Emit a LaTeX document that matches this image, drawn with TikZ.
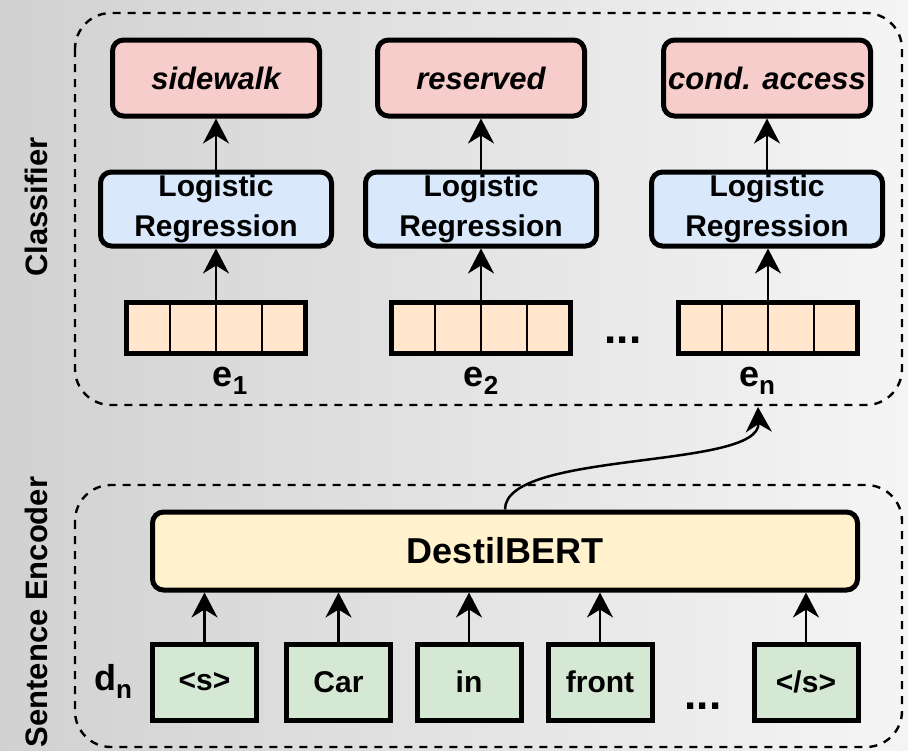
\documentclass[tikz,border=0pt]{standalone}
\usepackage{fontspec}
\setmainfont{Liberation Sans}
\usetikzlibrary{arrows.meta,calc}

\definecolor{labelred}{HTML}{F6CDCB}
\definecolor{lrblue}{HTML}{DAE8FC}
\definecolor{vecorange}{HTML}{FFE6CC}
\definecolor{encyellow}{HTML}{FFF2CC}
\definecolor{tokgreen}{HTML}{D5E8D4}

\begin{document}
\begin{tikzpicture}[x=1pt,y=-1pt,
  box/.style={draw=black, line width=5pt, inner sep=0pt, align=center},
  labelbox/.style={box, rounded corners=11pt, fill=labelred,
    minimum width=207pt, minimum height=76pt,
    font=\fontsize{31}{34}\selectfont\bfseries\itshape},
  lrbox/.style={box, rounded corners=11pt, fill=lrblue,
    minimum width=231pt, minimum height=74pt,
    font=\fontsize{30}{40}\selectfont\bfseries},
  vecbox/.style={box, fill=vecorange, minimum width=179pt, minimum height=51pt},
  encbox/.style={box, rounded corners=11pt, fill=encyellow,
    minimum width=705pt, minimum height=78pt,
    font=\fontsize{36}{40}\selectfont\bfseries},
  tokbox/.style={box, fill=tokgreen, minimum width=104pt, minimum height=76pt,
    font=\fontsize{30}{34}\selectfont\bfseries},
  group/.style={draw=black, line width=2.4pt, dash pattern=on 8pt off 7pt,
    rounded corners=36pt},
  divider/.style={draw=black, line width=2.8pt},
  arr/.style={draw=black, line width=2.5pt,
    -{Stealth[length=25pt,width=26pt,inset=8pt]}},
  side/.style={rotate=90, font=\fontsize{31}{34}\selectfont\bfseries},
  emb/.style={font=\fontsize{36}{40}\selectfont\bfseries},
  dots/.style={font=\fontsize{44}{44}\selectfont\bfseries, inner sep=0pt}
]
\useasboundingbox (0,0) rectangle (908,750);

% backdrop
\fill[left color=black!18, right color=black!4] (0,0) rectangle (908,750);

% group frames
\draw[group] (75,13) rectangle (902,405);
\draw[group] (75,485) rectangle (902,747);
\node[side] (clsname) at (36,207) {Classifier};
\node[side] (encname) at (36,612) {Sentence Encoder};

% classifier columns
\node[labelbox] (c1) at (216,78) {sidewalk};
\node[labelbox] (c2) at (481,78) {reserved};
\node[labelbox] (c3) at (767,78) {cond. access};

\node[lrbox] (lr1) at (216,209) {Logistic\\Regression};
\node[lrbox] (lr2) at (481,209) {Logistic\\Regression};
\node[lrbox] (lr3) at (767,209) {Logistic\\Regression};

\node[vecbox] (v1) at (216,327.5) {};
\node[vecbox] (v2) at (481,327.5) {};
\node[vecbox] (v3) at (768,327.5) {};
\foreach \v in {v1,v2,v3}{
  \foreach \f in {0.25,0.5,0.75}{
    \draw[divider] ($(\v.north west)!\f!(\v.north east)$) -- ($(\v.south west)!\f!(\v.south east)$);
  }
}

\node[emb] (e1) at (230,381) {e\raisebox{-0.22em}{\fontsize{26}{26}\selectfont 1}};
\node[emb] (e2) at (481,381) {e\raisebox{-0.22em}{\fontsize{26}{26}\selectfont 2}};
\node[emb] (en) at (757,381) {e\raisebox{-0.22em}{\fontsize{26}{26}\selectfont n}};
\node[dots, anchor=base] (vdots) at (623,343) {...};

\foreach \i in {1,2,3}{
  \draw[arr] (v\i.north) -- (v\i.north |- lr\i.south);
  \draw[arr] (lr\i.north) -- (lr\i.north |- c\i.south);
}

% sentence encoder
\node[encbox] (db) at (505,551) {DestilBERT};

\node[tokbox] (t1) at (204.5,682) {<s>};
\node[tokbox] (t2) at (338.5,682) {Car};
\node[tokbox] (t3) at (469,682) {in};
\node[tokbox] (t4) at (600,682) {front};
\node[tokbox] (t5) at (806,682) {</s>};
\node[emb] (dn) at (113,681) {d\raisebox{-0.22em}{\fontsize{26}{26}\selectfont n}};
\node[dots, anchor=base] (tdots) at (703,709) {...};

\foreach \i in {1,...,5}{
  \draw[arr] (t\i.north) -- (t\i.north |- db.south);
}

% sentence embedding handed to the classifier
\coordinate (entip) at (758,407);
\draw[arr] (db.north) .. controls (505,450) and (760,470) .. (entip);
\end{tikzpicture}
\end{document}
